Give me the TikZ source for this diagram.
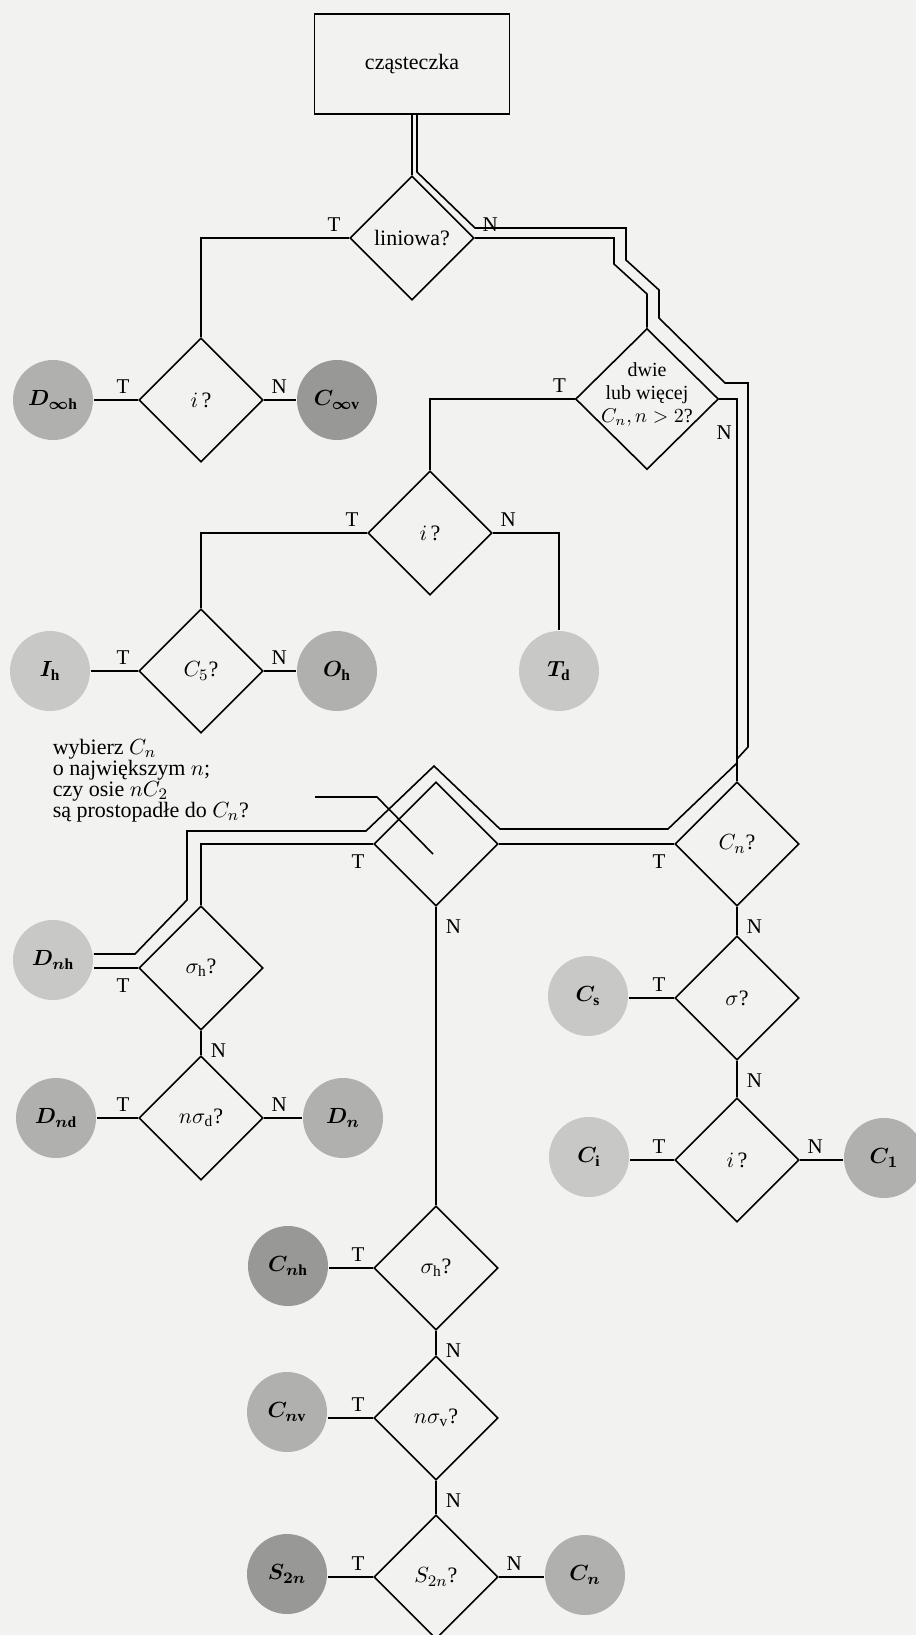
\documentclass[tikz,border=0pt]{standalone}
\usepackage{fontspec}
\setmainfont{Liberation Serif}
\usetikzlibrary{shapes.geometric,positioning,calc}

\definecolor{bg}{RGB}{242,242,240}
\definecolor{lgr}{RGB}{200,200,198}
\definecolor{mgr}{RGB}{176,176,174}
\definecolor{dgr}{RGB}{152,152,150}

\tikzset{
  dia/.style={draw, diamond, aspect=1, inner sep=0pt, minimum width=62pt, minimum height=62pt},
  ball/.style={circle, inner sep=0pt, minimum size=40pt, font=\fontsize{11}{11}\selectfont\boldmath},
  lab/.style={inner sep=2pt, font=\fontsize{10.5}{11}\selectfont},
}

\begin{document}
\begin{tikzpicture}[x=0.5pt,y=-0.5pt,line width=0.8pt,font=\fontsize{11}{11}\selectfont]
    \fill[bg] (0,0) rectangle (916,1635);
    \useasboundingbox (0,0) rectangle (916,1635);
    %
    \node[draw, minimum width=97.5pt, minimum height=50pt] (mol) at (412,64) {cząsteczka};
    \node[dia] (qlin) at (412,238) {liniowa?};
    \node[dia] (qinv1) at (201,400) {$i$\,?};
    \node[dia, minimum width=71.5pt, minimum height=70.5pt,
          label={[align=center, yshift=2.5pt, font=\fontsize{10}{11.5}\selectfont]center:{dwie\\lub więcej\\$C_n,n>2$?}}] (qmulti) at (647,399) {};
    \node[dia] (qinv2) at (430,533) {$i$\,?};
    \node[dia] (qfive) at (201,671) {$C_5$?};
    \node[dia] (qperp) at (436,844) {};
    \node[dia] (qcn) at (737,844) {$C_n$?};
    \node[dia] (qsh1) at (201,968) {$\sigma_\mathrm{h}$?};
    \node[dia] (qsd) at (201,1118) {$n\sigma_\mathrm{d}$?};
    \node[dia] (qsig) at (737,998) {$\sigma$?};
    \node[dia] (qinv3) at (737,1160) {$i$\,?};
    \node[dia] (qsh2) at (436,1268) {$\sigma_\mathrm{h}$?};
    \node[dia] (qsv) at (436,1418) {$n\sigma_\mathrm{v}$?};
    \node[dia] (qs2n) at (436,1577) {$S_{2n}$?};
    %
    \node[ball, fill=mgr] (Dinfh) at (53,400) {$D_{\infty\mathrm{h}}$};
    \node[ball, fill=dgr] (Cinfv) at (337,400) {$C_{\infty\mathrm{v}}$};
    \node[ball, fill=lgr] (Ih) at (50,671) {$I_\mathrm{h}$};
    \node[ball, fill=mgr] (Oh) at (337,671) {$O_\mathrm{h}$};
    \node[ball, fill=lgr] (Td) at (559,671) {$T_\mathrm{d}$};
    \node[ball, fill=lgr] (Dnh) at (53,960) {$D_{n\mathrm{h}}$};
    \node[ball, fill=mgr] (Dnd) at (56,1118) {$D_{n\mathrm{d}}$};
    \node[ball, fill=mgr] (Dn) at (343,1118) {$D_n$};
    \node[ball, fill=lgr] (Cs) at (588,996) {$C_\mathrm{s}$};
    \node[ball, fill=lgr] (Ci) at (589,1157) {$C_\mathrm{i}$};
    \node[ball, fill=mgr] (C1) at (884,1158) {$C_1$};
    \node[ball, fill=dgr] (Cnh) at (288,1266) {$C_{n\mathrm{h}}$};
    \node[ball, fill=mgr] (Cnv) at (287,1412) {$C_{n\mathrm{v}}$};
    \node[ball, fill=dgr] (S2n) at (287,1574) {$S_{2n}$};
    \node[ball, fill=mgr] (Cn) at (585,1575) {$C_n$};
    %
    \node[anchor=north west, align=left, inner sep=0pt, font=\fontsize{11}{10.5}\selectfont] (note) at (52,738)
        {wybierz $C_n$\\o największym $n$;\\czy osie $nC_2$\\są prostopadłe do $C_n$?};
    \coordinate (lead) at (315,797);
    \draw (lead) -- (377,797) -- ($(qperp)+(-3,10)$);
    %
    \draw (mol) -- (qlin);
    \draw (qlin.west) -| (qinv1.north);
    \draw (qlin.east) -- (614,238) -- (614,264) -- (647,294) -- (qmulti.north);
    \draw (qinv1.west) -- (qinv1.west -| Dinfh.east);
    \draw (qinv1.east) -- (qinv1.east -| Cinfv.west);
    \draw (qmulti.west) -| (qinv2.north);
    \draw (qmulti.east) -| (qcn.north);
    \draw (qinv2.west) -| (qfive.north);
    \draw (qinv2.east) -| (Td.north);
    \draw (qfive.west) -- (qfive.west -| Ih.east);
    \draw (qfive.east) -- (qfive.east -| Oh.west);
    \draw (qcn.west) -- (qperp.east);
    \draw (qcn.south) -- (qsig.north);
    \draw (qperp.west) -| (qsh1.north);
    \draw (qperp.south) -- (qsh2.north);
    \draw (qsh1.west) -- (qsh1.west -| Dnh.east);
    \draw (qsh1.south) -- (qsd.north);
    \draw (qsd.west) -- (qsd.west -| Dnd.east);
    \draw (qsd.east) -- (qsd.east -| Dn.west);
    \draw (qsig.west) -- (qsig.west -| Cs.east);
    \draw (qsig.south) -- (qinv3.north);
    \draw (qinv3.west) -- (qinv3.west -| Ci.east);
    \draw (qinv3.east) -- (qinv3.east -| C1.west);
    \draw (qsh2.west) -- (qsh2.west -| Cnh.east);
    \draw (qsh2.south) -- (qsv.north);
    \draw (qsv.west) -- (qsv.west -| Cnv.east);
    \draw (qsv.south) -- (qs2n.north);
    \draw (qs2n.west) -- (qs2n.west -| S2n.east);
    \draw (qs2n.east) -- (qs2n.east -| Cn.west);
    %
    % druga linia wybranej drogi
    \draw (417,114) -- (417,172) -- (475,228) -- (626,228) -- (626,260) -- (659,290) -- (659,318)
        -- (725,383) -- (748,383) -- (748,747) -- (737,759);
    \draw (737,763) -- (668,829) -- (500,829) -- (434,766) -- (366,831) -- (187,831) -- (187,900)
        -- (135,954) -- (Dnh.east |- 0,954);
    %
    \foreach \q in {qlin,qinv1,qmulti,qinv2,qfive,qsd,qsig,qinv3,qsh2,qsv,qs2n}
        \node[lab, above left=1pt and 2pt of \q.west] (t\q) {T};
    \foreach \q in {qlin,qinv1,qinv2,qfive,qsd,qinv3,qs2n}
        \node[lab, above right=1pt and 1.5pt of \q.east] (n\q) {N};
    \foreach \q in {qcn,qperp,qsh1}
        \node[lab, below left=3pt and 2pt of \q.west] (t\q) {T};
    \foreach \q in {qcn,qperp,qsh1,qsig,qsh2,qsv}
        \node[lab, below right=4pt and 2.5pt of \q.south] (n\q) {N};
    \node[lab] (nqmulti) at ($(qmulti.east)+(5,34)$) {N};
    %
\end{tikzpicture}
\end{document}
